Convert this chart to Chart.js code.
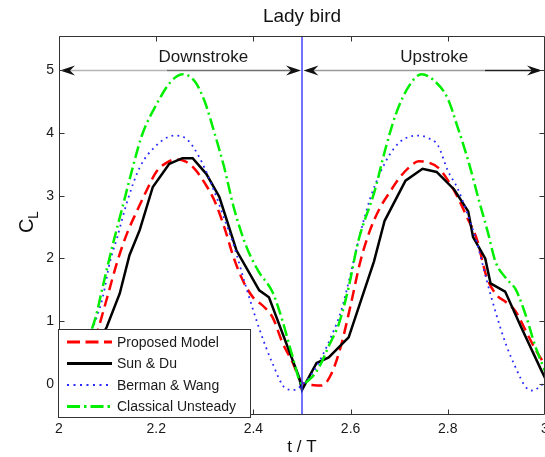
<!DOCTYPE html>
<html>
<head>
<meta charset="utf-8">
<script src="https://cdn.jsdelivr.net/npm/chart.js@4.4.1/dist/chart.umd.min.js"></script>
<style>
  html, body { margin: 0; padding: 0; background: #ffffff; }
  #wrap { width: 545px; height: 457px; position: relative; }
</style>
</head>
<body>
<div id="wrap"><canvas id="cl" width="545" height="457"></canvas></div>
<script>
// Lift coefficient over one wing-beat cycle (t/T from 2 to 3)
const title = 'Lady bird';
const xTicks = [2, 2.2, 2.4, 2.6, 2.8, 3];
const xTickLabels = ['2', '2.2', '2.4', '2.6', '2.8', '3'];
const yTicks = [0, 1, 2, 3, 4, 5];
const yTickLabels = ['0', '1', '2', '3', '4', '5'];
const seriesNames = ['Proposed Model', 'Sun & Du', 'Berman & Wang', 'Classical Unsteady'];
const strokeNames = ['Downstroke', 'Upstroke'];
const strokeSplit = 2.5;
const arrowLevel = 5;

// Proposed Model
const tProposed = [2.00, 2.02, 2.04, 2.06, 2.08, 2.10, 2.12, 2.14, 2.16, 2.18, 2.20, 2.22, 2.24, 2.26, 2.28, 2.30, 2.32, 2.34, 2.36, 2.38, 2.40, 2.42, 2.44, 2.46, 2.48,
                   2.50, 2.52, 2.54, 2.56, 2.58, 2.60, 2.62, 2.64, 2.66, 2.68, 2.70, 2.72, 2.74, 2.76, 2.78, 2.80, 2.82, 2.84, 2.86, 2.88, 2.90, 2.92, 2.94, 2.96, 2.98, 3.00];
const clProposed = [0.02, -0.02, 0.00, 0.30, 0.85, 1.40, 1.95, 2.40, 2.75, 3.08, 3.38, 3.52, 3.58, 3.55, 3.42, 3.20, 2.92, 2.50, 2.00, 1.62, 1.37, 1.24, 1.05, 0.65, 0.35,
                    0.02, -0.02, -0.03, 0.15, 0.60, 1.25, 1.95, 2.45, 2.80, 3.05, 3.28, 3.45, 3.55, 3.53, 3.45, 3.25, 2.98, 2.65, 2.30, 1.70, 1.42, 1.30, 1.15, 0.85, 0.55, 0.30];

// Sun & Du
const tSunDu = [2.000, 2.025, 2.050, 2.075, 2.098, 2.125, 2.145, 2.166, 2.193, 2.227, 2.254, 2.275, 2.303, 2.330, 2.365, 2.412, 2.432, 2.494,
                2.500, 2.530, 2.555, 2.596, 2.648, 2.670, 2.713, 2.748, 2.777, 2.813, 2.842, 2.852, 2.877, 2.888, 2.918, 2.951, 2.992, 3.000];
const clSunDu = [-0.10, 0.30, 0.42, 0.60, 0.90, 1.44, 2.05, 2.45, 3.14, 3.51, 3.60, 3.60, 3.35, 2.98, 2.13, 1.49, 1.38, 0.10,
                 -0.10, 0.33, 0.42, 0.74, 1.95, 2.60, 3.24, 3.43, 3.38, 3.10, 2.75, 2.34, 2.00, 1.60, 1.47, 0.90, 0.22, 0.09];

// Berman & Wang
const tBerman = [2.00, 2.02, 2.04, 2.07, 2.09, 2.105, 2.12, 2.14, 2.166, 2.20, 2.237, 2.262, 2.289, 2.316, 2.344, 2.36, 2.385, 2.412, 2.439, 2.467, 2.485,
                 2.50, 2.52, 2.54, 2.56, 2.58, 2.60, 2.62, 2.64, 2.66, 2.68, 2.70, 2.72, 2.74, 2.76, 2.78, 2.80, 2.82, 2.84, 2.86, 2.88, 2.90, 2.92, 2.94, 2.96, 2.975, 2.99, 3.00];
const clBerman = [-0.05, 0.10, 0.35, 0.90, 1.38, 1.95, 2.34, 2.90, 3.45, 3.80, 3.96, 3.91, 3.61, 3.14, 2.55, 2.20, 1.54, 0.88, 0.33, -0.08, -0.10,
                  -0.02, 0.15, 0.42, 0.75, 1.15, 1.75, 2.40, 2.95, 3.35, 3.65, 3.85, 3.94, 3.96, 3.92, 3.80, 3.40, 3.12, 2.72, 2.25, 1.65, 1.10, 0.62, 0.25, -0.05, -0.11, -0.04, 0.02];

// Classical Unsteady
const tClassical = [2.00, 2.02, 2.04, 2.06, 2.075, 2.09, 2.11, 2.13, 2.15, 2.17, 2.20, 2.23, 2.255, 2.28, 2.30, 2.32, 2.34, 2.36, 2.385, 2.41, 2.44, 2.46, 2.48,
                    2.50, 2.52, 2.535, 2.555, 2.576, 2.596, 2.615, 2.65, 2.67, 2.693, 2.72, 2.746, 2.77, 2.80, 2.82, 2.842, 2.865, 2.883, 2.898, 2.92, 2.94, 2.96, 2.98, 3.00];
const clClassical = [0.00, 0.10, 0.35, 0.72, 1.05, 1.55, 2.20, 2.80, 3.40, 3.95, 4.45, 4.82, 4.94, 4.82, 4.50, 4.00, 3.45, 2.80, 2.20, 1.80, 1.45, 1.00, 0.45,
                     0.00, 0.10, 0.26, 0.60, 0.96, 1.54, 2.25, 3.09, 3.70, 4.30, 4.75, 4.94, 4.85, 4.55, 4.10, 3.56, 2.90, 2.40, 1.95, 1.68, 1.50, 1.10, 0.60, 0.20];

const pts = (ts, vs) => ts.map((t, i) => ({ x: t, y: vs[i] }));

const FONT = "'Liberation Sans', Arial, Helvetica, sans-serif";
const styles = [
  { color: '#ff0000', width: 2.5, dash: [11, 6] },
  { color: '#000000', width: 2.5, dash: [] },
  { color: '#2a2aff', width: 1.8, dash: [1.8, 4.2] },
  { color: '#00ee00', width: 2.5, dash: [12, 4, 2, 4] }
];

function drawArrowHead(ctx, x, y, dir) {
  // concave-backed arrow head, tip at (x, y), pointing along dir (+1 right, -1 left)
  const L = 15, W = 5, notch = 5;
  ctx.beginPath();
  ctx.moveTo(x, y);
  ctx.lineTo(x - dir * L, y - W);
  ctx.lineTo(x - dir * (L - notch), y);
  ctx.lineTo(x - dir * L, y + W);
  ctx.closePath();
  ctx.fill();
}

const decorations = {
  id: 'decorations',
  afterDatasetsDraw(chart) {
    const ctx = chart.ctx;
    const xs = chart.scales.x, ys = chart.scales.y;
    const a = chart.chartArea;
    ctx.save();

    // stroke divider
    const xm = xs.getPixelForValue(strokeSplit);
    ctx.strokeStyle = '#3535ff';
    ctx.lineWidth = 1.4;
    ctx.beginPath();
    ctx.moveTo(xm, a.top);
    ctx.lineTo(xm, a.bottom);
    ctx.stroke();

    // stroke arrows
    const ya = Math.round(ys.getPixelForValue(arrowLevel)) + 0.5;
    const x0 = xs.getPixelForValue(xs.min), x1 = xs.getPixelForValue(xs.max);
    ctx.lineWidth = 1.5;
    const seg = (c, p, q) => { ctx.strokeStyle = c; ctx.beginPath(); ctx.moveTo(p, ya); ctx.lineTo(q, ya); ctx.stroke(); };
    seg('#b4b4b4', x0 + 4, x0 + 108);
    seg('#707070', x0 + 108, xm - 10);
    seg('#9a9a9a', xm + 10, x1 - 60);
    seg('#202020', x1 - 60, x1 - 6);
    ctx.fillStyle = '#111';
    drawArrowHead(ctx, x0 + 1, ya, -1);
    drawArrowHead(ctx, xm - 1, ya, 1);
    drawArrowHead(ctx, xm + 1.5, ya, -1);
    drawArrowHead(ctx, x1 - 3, ya, 1);

    ctx.font = '17px ' + FONT;
    ctx.fillStyle = '#1a1a1a';
    ctx.textAlign = 'center';
    ctx.textBaseline = 'alphabetic';
    ctx.fillText(strokeNames[0], xs.getPixelForValue(2.297), ya - 9);
    ctx.fillText(strokeNames[1], xs.getPixelForValue(2.772), ya - 9);

    // axes box and inward ticks
    ctx.strokeStyle = '#333';
    ctx.lineWidth = 1;
    const L = Math.round(a.left) + 0.5, R = Math.round(a.right) - 0.5;
    const T = Math.round(a.top) + 0.5, B = Math.round(a.bottom) - 0.5;
    ctx.beginPath();
    ctx.moveTo(L, T); ctx.lineTo(R, T); ctx.lineTo(R, B); ctx.lineTo(L, B); ctx.closePath();
    ctx.stroke();
    ctx.beginPath();
    xTicks.forEach(v => {
      const px = Math.round(xs.getPixelForValue(v)) + 0.5;
      ctx.moveTo(px, B); ctx.lineTo(px, B - 5);
      ctx.moveTo(px, T); ctx.lineTo(px, T + 5);
    });
    yTicks.forEach(v => {
      const py = Math.round(ys.getPixelForValue(v)) + 0.5;
      ctx.moveTo(L, py); ctx.lineTo(L + 5, py);
      ctx.moveTo(R, py); ctx.lineTo(R - 5, py);
    });
    ctx.stroke();

    // tick labels
    ctx.font = '14px ' + FONT;
    ctx.fillStyle = '#1a1a1a';
    ctx.textAlign = 'center';
    ctx.textBaseline = 'top';
    xTicks.forEach((v, i) => ctx.fillText(xTickLabels[i], xs.getPixelForValue(v), a.bottom + 7));
    ctx.textAlign = 'right';
    ctx.textBaseline = 'middle';
    yTicks.forEach((v, i) => ctx.fillText(yTickLabels[i], a.left - 5, ys.getPixelForValue(v)));

    // legend
    const lx = 58, ly = 329, lw = 192, lh = 88;
    ctx.fillStyle = '#ffffff';
    ctx.fillRect(lx, ly, lw, lh);
    ctx.strokeStyle = '#333';
    ctx.lineWidth = 1;
    ctx.strokeRect(lx + 0.5, ly + 0.5, lw, lh);
    const rows = [342, 363.5, 385, 406.5];
    seriesNames.forEach((name, i) => {
      const s = styles[i];
      ctx.strokeStyle = s.color;
      ctx.lineWidth = i === 2 ? 2 : 3;
      ctx.setLineDash(i === 0 ? [13, 5.5] : i === 2 ? [2, 4.5] : i === 3 ? [13, 4, 2.5, 4] : []);
      ctx.beginPath();
      ctx.moveTo(67, rows[i]);
      ctx.lineTo(112, rows[i]);
      ctx.stroke();
      ctx.setLineDash([]);
      ctx.fillStyle = '#1a1a1a';
      ctx.font = '14px ' + FONT;
      ctx.textAlign = 'left';
      ctx.textBaseline = 'middle';
      ctx.fillText(name, 117, rows[i] + 1);
    });

    // title and axis labels
    ctx.fillStyle = '#111';
    ctx.textAlign = 'center';
    ctx.textBaseline = 'middle';
    ctx.font = '19px ' + FONT;
    ctx.fillText(title, (a.left + a.right) / 2, 17);
    ctx.font = '17px ' + FONT;
    ctx.fillText('t / T', (a.left + a.right) / 2, 447);

    ctx.translate(33, 226);
    ctx.rotate(-Math.PI / 2);
    ctx.textAlign = 'left';
    ctx.textBaseline = 'alphabetic';
    ctx.font = '20px ' + FONT;
    ctx.fillText('C', -7, 0);
    ctx.font = '14px ' + FONT;
    ctx.fillText('L', 7, 5);
    ctx.restore();
  }
};

const curveData = [
  pts(tProposed, clProposed),
  pts(tSunDu, clSunDu),
  pts(tBerman, clBerman),
  pts(tClassical, clClassical)
];

new Chart(document.getElementById('cl'), {
  type: 'line',
  data: {
    datasets: seriesNames.map((name, i) => ({
      label: name,
      data: curveData[i],
      borderColor: styles[i].color,
      borderWidth: styles[i].width,
      borderDash: styles[i].dash,
      pointRadius: 0,
      fill: false,
      cubicInterpolationMode: i === 1 ? 'default' : 'monotone',
      tension: 0,
      order: 4 - i
    }))
  },
  options: {
    responsive: false,
    animation: false,
    devicePixelRatio: 1,
    layout: { padding: { left: 59, top: 36, right: -2, bottom: 42 } },
    scales: {
      x: { type: 'linear', min: 2, max: 3, display: false },
      y: { type: 'linear', min: -0.5, max: 5.55, display: false }
    },
    plugins: { legend: { display: false }, tooltip: { enabled: false }, title: { display: false } }
  },
  plugins: [decorations]
});
</script>
</body>
</html>
